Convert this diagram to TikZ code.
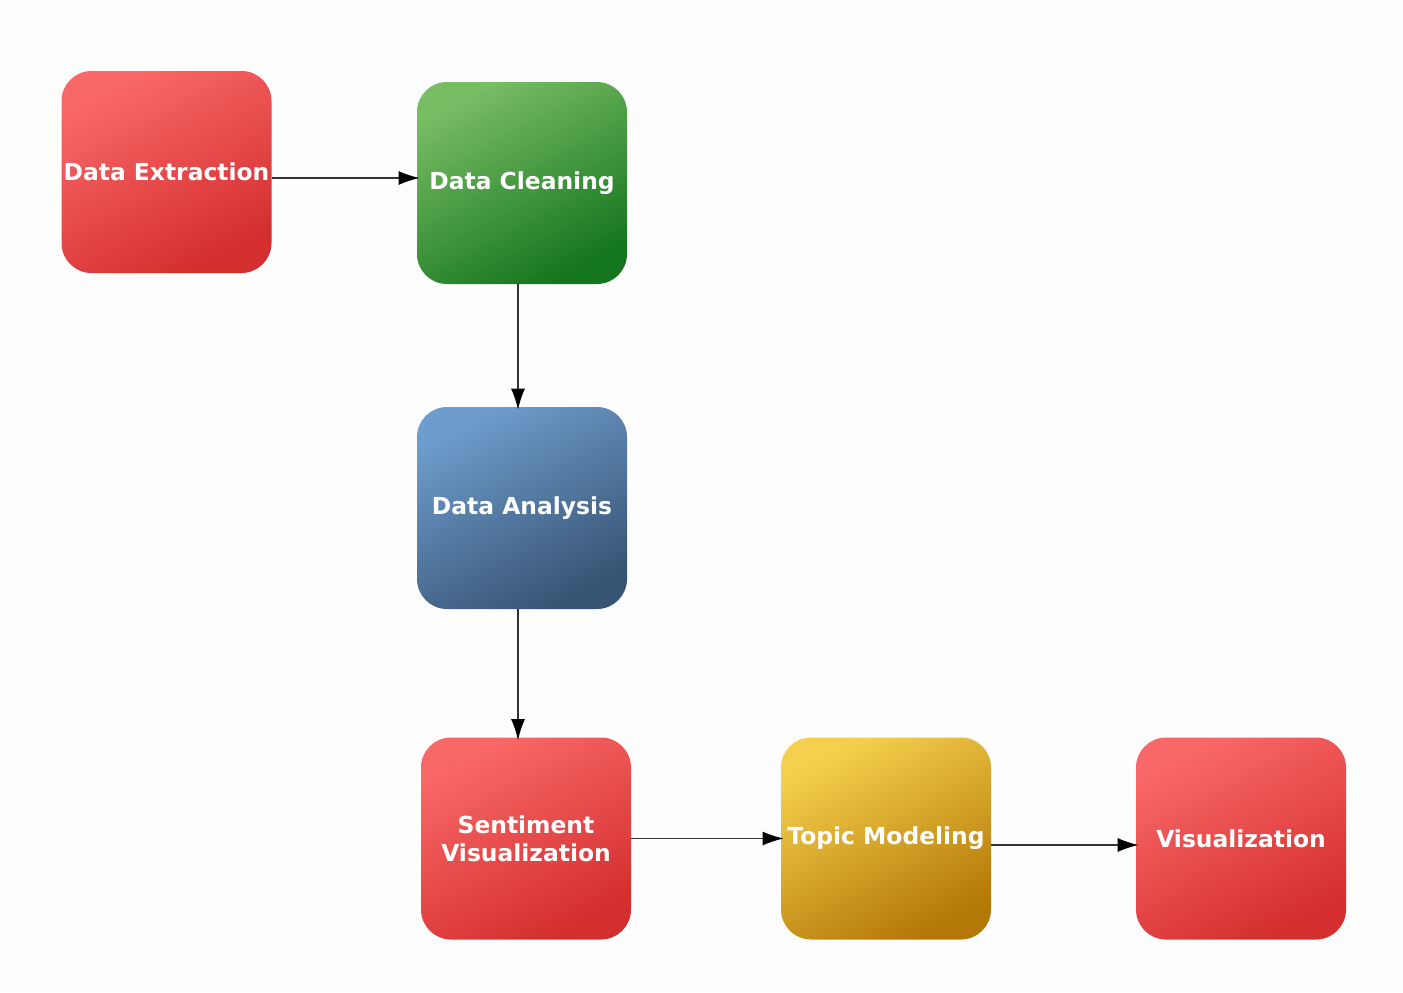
\documentclass[tikz,border=0pt]{standalone}
\usepackage{fontspec}
\setmainfont{DejaVu Sans}
\usetikzlibrary{arrows.meta}
\definecolor{bgc}{RGB}{253,253,253}
\definecolor{redL}{RGB}{249,104,104}
\definecolor{redD}{RGB}{212,46,46}
\definecolor{grnL}{RGB}{120,188,100}
\definecolor{grnD}{RGB}{20,118,30}
\definecolor{bluL}{RGB}{110,156,204}
\definecolor{bluD}{RGB}{56,84,116}
\definecolor{yelL}{RGB}{245,208,78}
\definecolor{yelD}{RGB}{180,120,6}
\definecolor{linec}{RGB}{50,50,50}
\tikzset{
  stage/.style={rounded corners=15pt, minimum width=105pt, minimum height=101pt,
    inner sep=0pt, align=center, text=white,
    font=\fontsize{11.7}{14}\selectfont\bfseries},
  redbox/.style={stage, top color=redL, bottom color=redD, shading angle=28},
  grnbox/.style={stage, top color=grnL, bottom color=grnD, shading angle=28},
  blubox/.style={stage, top color=bluL, bottom color=bluD, shading angle=28},
  yelbox/.style={stage, top color=yelL, bottom color=yelD, shading angle=28},
  flow/.style={draw=linec, line width=0.6pt, shorten >=-1.5pt,
    -{Latex[length=10.5pt,width=7pt,color=black]}}
}
\begin{document}
\begin{tikzpicture}[x=0.5pt,y=-0.5pt]
\fill[bgc] (0,0) rectangle (1403,992);
\useasboundingbox (0,0) rectangle (1403,992);
\node[redbox] (ext) at (166.5,172) {Data Extraction};
\node[grnbox] (cln) at (522,183) {Data Cleaning};
\node[blubox] (ana) at (522,508) {Data Analysis};
\node[redbox] (sen) at (526,838.5) {Sentiment\\Visualization};
\node[yelbox] (top) at (886,838.5) {Topic Modeling};
\node[redbox] (vis) at (1241,838.5) {Visualization};
\draw[flow] ([yshift=-3pt]ext.east) -- ([yshift=2.5pt]cln.west);
\draw[flow] ([xshift=-2pt]cln.south) -- ([xshift=-2pt]ana.north);
\draw[flow] ([xshift=-2pt]ana.south) -- ([xshift=-4pt]sen.north);
\draw[flow] ([yshift=0pt]sen.east) -- ([yshift=0pt]top.west);
\draw[flow] ([yshift=-3.25pt]top.east) -- ([yshift=-3.25pt]vis.west);
\end{tikzpicture}
\end{document}
